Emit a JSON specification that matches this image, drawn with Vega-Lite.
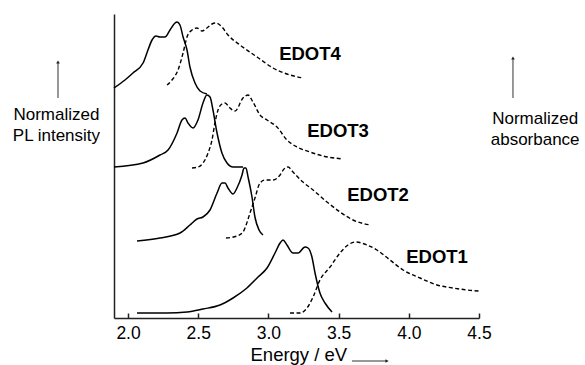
{
  "$schema": "https://vega.github.io/schema/vega-lite/v6.json",
  "autosize": {"type": "none"},
  "padding": {"left": 114, "top": 14, "right": 106, "bottom": 47},
  "width": 365,
  "height": 304,
  "background": "white",
  "config": {
    "view": {"stroke": null},
    "font": "Liberation Sans"
  },
  "datasets": {
    "curves": [
      {"series": "EDOT4", "type": "PL", "E": 1.900, "I": 230},
      {"series": "EDOT4", "type": "PL", "E": 1.978, "I": 238},
      {"series": "EDOT4", "type": "PL", "E": 2.035, "I": 245},
      {"series": "EDOT4", "type": "PL", "E": 2.107, "I": 255},
      {"series": "EDOT4", "type": "PL", "E": 2.142, "I": 268},
      {"series": "EDOT4", "type": "PL", "E": 2.171, "I": 278},
      {"series": "EDOT4", "type": "PL", "E": 2.199, "I": 282},
      {"series": "EDOT4", "type": "PL", "E": 2.228, "I": 281},
      {"series": "EDOT4", "type": "PL", "E": 2.263, "I": 281},
      {"series": "EDOT4", "type": "PL", "E": 2.299, "I": 288},
      {"series": "EDOT4", "type": "PL", "E": 2.335, "I": 295},
      {"series": "EDOT4", "type": "PL", "E": 2.349, "I": 296},
      {"series": "EDOT4", "type": "PL", "E": 2.370, "I": 293},
      {"series": "EDOT4", "type": "PL", "E": 2.392, "I": 281},
      {"series": "EDOT4", "type": "PL", "E": 2.420, "I": 268},
      {"series": "EDOT4", "type": "PL", "E": 2.441, "I": 251},
      {"series": "EDOT4", "type": "PL", "E": 2.477, "I": 235},
      {"series": "EDOT4", "type": "PL", "E": 2.513, "I": 227},
      {"series": "EDOT4", "type": "PL", "E": 2.562, "I": 224},

      {"series": "EDOT4", "type": "abs", "E": 2.278, "I": 233},
      {"series": "EDOT4", "type": "abs", "E": 2.313, "I": 238},
      {"series": "EDOT4", "type": "abs", "E": 2.356, "I": 248},
      {"series": "EDOT4", "type": "abs", "E": 2.392, "I": 265},
      {"series": "EDOT4", "type": "abs", "E": 2.420, "I": 281},
      {"series": "EDOT4", "type": "abs", "E": 2.456, "I": 288},
      {"series": "EDOT4", "type": "abs", "E": 2.491, "I": 290},
      {"series": "EDOT4", "type": "abs", "E": 2.527, "I": 287},
      {"series": "EDOT4", "type": "abs", "E": 2.562, "I": 290},
      {"series": "EDOT4", "type": "abs", "E": 2.598, "I": 294},
      {"series": "EDOT4", "type": "abs", "E": 2.627, "I": 295},
      {"series": "EDOT4", "type": "abs", "E": 2.669, "I": 291},
      {"series": "EDOT4", "type": "abs", "E": 2.712, "I": 283},
      {"series": "EDOT4", "type": "abs", "E": 2.798, "I": 273},
      {"series": "EDOT4", "type": "abs", "E": 2.919, "I": 261},
      {"series": "EDOT4", "type": "abs", "E": 3.033, "I": 250},
      {"series": "EDOT4", "type": "abs", "E": 3.132, "I": 244},
      {"series": "EDOT4", "type": "abs", "E": 3.246, "I": 240},

      {"series": "EDOT3", "type": "PL", "E": 1.900, "I": 151},
      {"series": "EDOT3", "type": "PL", "E": 2.107, "I": 155},
      {"series": "EDOT3", "type": "PL", "E": 2.228, "I": 163},
      {"series": "EDOT3", "type": "PL", "E": 2.285, "I": 168},
      {"series": "EDOT3", "type": "PL", "E": 2.349, "I": 185},
      {"series": "EDOT3", "type": "PL", "E": 2.384, "I": 198},
      {"series": "EDOT3", "type": "PL", "E": 2.406, "I": 200},
      {"series": "EDOT3", "type": "PL", "E": 2.427, "I": 195},
      {"series": "EDOT3", "type": "PL", "E": 2.463, "I": 190},
      {"series": "EDOT3", "type": "PL", "E": 2.498, "I": 198},
      {"series": "EDOT3", "type": "PL", "E": 2.534, "I": 215},
      {"series": "EDOT3", "type": "PL", "E": 2.562, "I": 223},
      {"series": "EDOT3", "type": "PL", "E": 2.584, "I": 221},
      {"series": "EDOT3", "type": "PL", "E": 2.605, "I": 208},
      {"series": "EDOT3", "type": "PL", "E": 2.634, "I": 185},
      {"series": "EDOT3", "type": "PL", "E": 2.669, "I": 165},
      {"series": "EDOT3", "type": "PL", "E": 2.705, "I": 155},
      {"series": "EDOT3", "type": "PL", "E": 2.748, "I": 151},
      {"series": "EDOT3", "type": "PL", "E": 2.819, "I": 151},

      {"series": "EDOT3", "type": "abs", "E": 2.456, "I": 150},
      {"series": "EDOT3", "type": "abs", "E": 2.498, "I": 151},
      {"series": "EDOT3", "type": "abs", "E": 2.534, "I": 155},
      {"series": "EDOT3", "type": "abs", "E": 2.570, "I": 165},
      {"series": "EDOT3", "type": "abs", "E": 2.598, "I": 178},
      {"series": "EDOT3", "type": "abs", "E": 2.619, "I": 195},
      {"series": "EDOT3", "type": "abs", "E": 2.641, "I": 208},
      {"series": "EDOT3", "type": "abs", "E": 2.669, "I": 214},
      {"series": "EDOT3", "type": "abs", "E": 2.691, "I": 215},
      {"series": "EDOT3", "type": "abs", "E": 2.726, "I": 210},
      {"series": "EDOT3", "type": "abs", "E": 2.762, "I": 207},
      {"series": "EDOT3", "type": "abs", "E": 2.819, "I": 220},
      {"series": "EDOT3", "type": "abs", "E": 2.855, "I": 223},
      {"series": "EDOT3", "type": "abs", "E": 2.890, "I": 216},
      {"series": "EDOT3", "type": "abs", "E": 2.940, "I": 203},
      {"series": "EDOT3", "type": "abs", "E": 2.990, "I": 198},
      {"series": "EDOT3", "type": "abs", "E": 3.061, "I": 191},
      {"series": "EDOT3", "type": "abs", "E": 3.132, "I": 178},
      {"series": "EDOT3", "type": "abs", "E": 3.203, "I": 171},
      {"series": "EDOT3", "type": "abs", "E": 3.296, "I": 166},
      {"series": "EDOT3", "type": "abs", "E": 3.389, "I": 162},
      {"series": "EDOT3", "type": "abs", "E": 3.531, "I": 159},

      {"series": "EDOT2", "type": "PL", "E": 2.064, "I": 77},
      {"series": "EDOT2", "type": "PL", "E": 2.228, "I": 80},
      {"series": "EDOT2", "type": "PL", "E": 2.370, "I": 85},
      {"series": "EDOT2", "type": "PL", "E": 2.441, "I": 93},
      {"series": "EDOT2", "type": "PL", "E": 2.491, "I": 99},
      {"series": "EDOT2", "type": "PL", "E": 2.534, "I": 101},
      {"series": "EDOT2", "type": "PL", "E": 2.584, "I": 108},
      {"series": "EDOT2", "type": "PL", "E": 2.634, "I": 125},
      {"series": "EDOT2", "type": "PL", "E": 2.669, "I": 135},
      {"series": "EDOT2", "type": "PL", "E": 2.691, "I": 135},
      {"series": "EDOT2", "type": "PL", "E": 2.712, "I": 130},
      {"series": "EDOT2", "type": "PL", "E": 2.748, "I": 124},
      {"series": "EDOT2", "type": "PL", "E": 2.776, "I": 130},
      {"series": "EDOT2", "type": "PL", "E": 2.812, "I": 143},
      {"series": "EDOT2", "type": "PL", "E": 2.826, "I": 150},
      {"series": "EDOT2", "type": "PL", "E": 2.840, "I": 150},
      {"series": "EDOT2", "type": "PL", "E": 2.855, "I": 141},
      {"series": "EDOT2", "type": "PL", "E": 2.883, "I": 121},
      {"series": "EDOT2", "type": "PL", "E": 2.904, "I": 101},
      {"series": "EDOT2", "type": "PL", "E": 2.933, "I": 88},
      {"series": "EDOT2", "type": "PL", "E": 2.961, "I": 83},

      {"series": "EDOT2", "type": "abs", "E": 2.698, "I": 80},
      {"series": "EDOT2", "type": "abs", "E": 2.776, "I": 82},
      {"series": "EDOT2", "type": "abs", "E": 2.819, "I": 86},
      {"series": "EDOT2", "type": "abs", "E": 2.869, "I": 105},
      {"series": "EDOT2", "type": "abs", "E": 2.904, "I": 120},
      {"series": "EDOT2", "type": "abs", "E": 2.940, "I": 135},
      {"series": "EDOT2", "type": "abs", "E": 2.976, "I": 138},
      {"series": "EDOT2", "type": "abs", "E": 3.033, "I": 138},
      {"series": "EDOT2", "type": "abs", "E": 3.083, "I": 143},
      {"series": "EDOT2", "type": "abs", "E": 3.111, "I": 149},
      {"series": "EDOT2", "type": "abs", "E": 3.140, "I": 151},
      {"series": "EDOT2", "type": "abs", "E": 3.175, "I": 146},
      {"series": "EDOT2", "type": "abs", "E": 3.246, "I": 136},
      {"series": "EDOT2", "type": "abs", "E": 3.318, "I": 128},
      {"series": "EDOT2", "type": "abs", "E": 3.417, "I": 116},
      {"series": "EDOT2", "type": "abs", "E": 3.510, "I": 106},
      {"series": "EDOT2", "type": "abs", "E": 3.603, "I": 98},
      {"series": "EDOT2", "type": "abs", "E": 3.724, "I": 93},

      {"series": "EDOT1", "type": "PL", "E": 2.064, "I": 5},
      {"series": "EDOT1", "type": "PL", "E": 2.278, "I": 5},
      {"series": "EDOT1", "type": "PL", "E": 2.420, "I": 6},
      {"series": "EDOT1", "type": "PL", "E": 2.534, "I": 9},
      {"series": "EDOT1", "type": "PL", "E": 2.655, "I": 13},
      {"series": "EDOT1", "type": "PL", "E": 2.748, "I": 20},
      {"series": "EDOT1", "type": "PL", "E": 2.847, "I": 30},
      {"series": "EDOT1", "type": "PL", "E": 2.926, "I": 41},
      {"series": "EDOT1", "type": "PL", "E": 2.990, "I": 50},
      {"series": "EDOT1", "type": "PL", "E": 3.047, "I": 65},
      {"series": "EDOT1", "type": "PL", "E": 3.083, "I": 75},
      {"series": "EDOT1", "type": "PL", "E": 3.104, "I": 78},
      {"series": "EDOT1", "type": "PL", "E": 3.132, "I": 73},
      {"series": "EDOT1", "type": "PL", "E": 3.175, "I": 65},
      {"series": "EDOT1", "type": "PL", "E": 3.211, "I": 65},
      {"series": "EDOT1", "type": "PL", "E": 3.261, "I": 71},
      {"series": "EDOT1", "type": "PL", "E": 3.282, "I": 70},
      {"series": "EDOT1", "type": "PL", "E": 3.310, "I": 61},
      {"series": "EDOT1", "type": "PL", "E": 3.332, "I": 45},
      {"series": "EDOT1", "type": "PL", "E": 3.367, "I": 25},
      {"series": "EDOT1", "type": "PL", "E": 3.403, "I": 15},
      {"series": "EDOT1", "type": "PL", "E": 3.453, "I": 6},

      {"series": "EDOT1", "type": "abs", "E": 3.154, "I": 5},
      {"series": "EDOT1", "type": "abs", "E": 3.225, "I": 5},
      {"series": "EDOT1", "type": "abs", "E": 3.275, "I": 10},
      {"series": "EDOT1", "type": "abs", "E": 3.318, "I": 21},
      {"series": "EDOT1", "type": "abs", "E": 3.367, "I": 38},
      {"series": "EDOT1", "type": "abs", "E": 3.439, "I": 51},
      {"series": "EDOT1", "type": "abs", "E": 3.510, "I": 65},
      {"series": "EDOT1", "type": "abs", "E": 3.567, "I": 73},
      {"series": "EDOT1", "type": "abs", "E": 3.617, "I": 76},
      {"series": "EDOT1", "type": "abs", "E": 3.702, "I": 73},
      {"series": "EDOT1", "type": "abs", "E": 3.773, "I": 68},
      {"series": "EDOT1", "type": "abs", "E": 3.866, "I": 58},
      {"series": "EDOT1", "type": "abs", "E": 3.959, "I": 48},
      {"series": "EDOT1", "type": "abs", "E": 4.080, "I": 40},
      {"series": "EDOT1", "type": "abs", "E": 4.201, "I": 33},
      {"series": "EDOT1", "type": "abs", "E": 4.315, "I": 30},
      {"series": "EDOT1", "type": "abs", "E": 4.415, "I": 28},
      {"series": "EDOT1", "type": "abs", "E": 4.500, "I": 27}
    ],
    "curveLabels": [
      {"label": "EDOT4", "E": 3.296, "I": 264},
      {"label": "EDOT3", "E": 3.496, "I": 187},
      {"label": "EDOT2", "E": 3.781, "I": 123},
      {"label": "EDOT1", "E": 4.201, "I": 61}
    ],
    "sideLabels": [
      {"text": "Normalized", "E": 1.490, "I": 198},
      {"text": "PL intensity", "E": 1.490, "I": 177},
      {"text": "Normalized", "E": 4.900, "I": 194},
      {"text": "absorbance", "E": 4.900, "I": 173}
    ],
    "arrows": [
      {"id": "left", "E": 1.501, "E2": 1.501, "I": 220, "I2": 256, "head": "triangle-up"},
      {"id": "right", "E": 4.742, "E2": 4.742, "I": 220, "I2": 260, "head": "triangle-up"},
      {"id": "bottom", "E": 3.595, "E2": 3.845, "I": -43, "I2": -43, "head": "triangle-right"}
    ]
  },
  "layer": [
    {
      "data": {"name": "curves"},
      "transform": [{"filter": "datum.type === 'PL'"}],
      "mark": {"type": "line", "color": "black", "strokeWidth": 1.5, "interpolate": "monotone"},
      "encoding": {
        "x": {
          "field": "E", "type": "quantitative",
          "scale": {"domain": [1.9, 4.5], "nice": false, "zero": false},
          "axis": {
            "title": "Energy / eV",
            "titleFont": "Liberation Sans",
            "titleFontSize": 18.5,
            "titleFontWeight": "normal",
            "titleColor": "black",
            "titleX": 136,
            "titleY": 42,
            "titleAlign": "left",
            "titleAnchor": "start",
            "titleBaseline": "alphabetic",
            "values": [2, 2.25, 2.5, 2.75, 3, 3.25, 3.5, 3.75, 4, 4.25, 4.5],
            "labelExpr": "abs(datum.value*2 - round(datum.value*2)) < 0.01 ? format(datum.value, '.1f') : ''",
            "labelFont": "Liberation Sans",
            "labelFontSize": 17.5,
            "labelColor": "black",
            "labelPadding": 11,
            "labelOverlap": false,
            "labelFlush": false,
            "grid": false,
            "domainColor": "#222",
            "domainWidth": 1.5,
            "tickColor": "#222",
            "tickWidth": 1.5,
            "tickSize": {"condition": {"test": "abs(datum.value*2 - round(datum.value*2)) > 0.01", "value": -3}, "value": -5}
          }
        },
        "y": {
          "field": "I", "type": "quantitative",
          "scale": {"domain": [0, 304], "nice": false, "zero": false},
          "axis": {"title": null, "labels": false, "ticks": false, "grid": false, "domainColor": "#222", "domainWidth": 1.5}
        },
        "detail": {"field": "series"},
        "order": {"field": "E", "type": "quantitative"}
      }
    },
    {
      "data": {"name": "curves"},
      "transform": [{"filter": "datum.type === 'abs'"}],
      "mark": {"type": "line", "color": "black", "strokeWidth": 1.4, "strokeDash": [4, 2.5], "interpolate": "monotone"},
      "encoding": {
        "x": {"field": "E", "type": "quantitative"},
        "y": {"field": "I", "type": "quantitative"},
        "detail": {"field": "series"},
        "order": {"field": "E", "type": "quantitative"}
      }
    },
    {
      "mark": {"type": "rule", "color": "#222", "strokeWidth": 1.5},
      "encoding": {"x": {"datum": 4.5}}
    },
    {
      "data": {"name": "curveLabels"},
      "mark": {"type": "text", "font": "Liberation Sans", "fontSize": 18.5, "fontWeight": "bold", "color": "black", "align": "center", "baseline": "middle"},
      "encoding": {
        "x": {"field": "E", "type": "quantitative"},
        "y": {"field": "I", "type": "quantitative"},
        "text": {"field": "label"}
      }
    },
    {
      "data": {"name": "sideLabels"},
      "mark": {"type": "text", "font": "Liberation Sans", "fontSize": 17, "color": "black", "align": "center", "baseline": "alphabetic"},
      "encoding": {
        "x": {"field": "E", "type": "quantitative"},
        "y": {"field": "I", "type": "quantitative"},
        "text": {"field": "text"}
      }
    },
    {
      "data": {"name": "arrows"},
      "mark": {"type": "rule", "color": "#333", "strokeWidth": 1},
      "encoding": {
        "x": {"field": "E", "type": "quantitative"},
        "x2": {"field": "E2"},
        "y": {"field": "I", "type": "quantitative"},
        "y2": {"field": "I2"}
      }
    },
    {
      "data": {"name": "arrows"},
      "mark": {"type": "point", "filled": true, "color": "#222", "size": 14, "opacity": 1},
      "encoding": {
        "x": {"field": "E2", "type": "quantitative"},
        "y": {"field": "I2", "type": "quantitative"},
        "shape": {"field": "head", "type": "nominal", "scale": null, "legend": null}
      }
    }
  ]
}
